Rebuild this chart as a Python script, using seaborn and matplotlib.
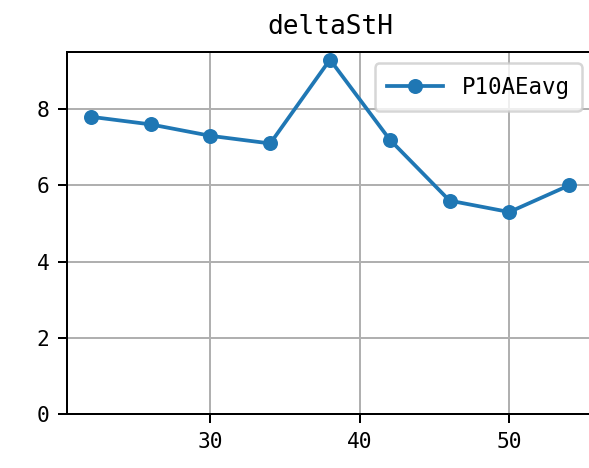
import matplotlib
matplotlib.use("Agg")
import matplotlib.pyplot as plt
import seaborn as sns
import pandas as pd

x_vals = [22, 26, 30, 34, 38, 42, 46, 50, 54]
y_vals = [7.8, 7.6, 7.3, 7.1, 9.3, 7.2, 5.6, 5.3, 6.0]
series_name = "P10AEavg"
title = "deltaStH"

df = pd.DataFrame({"x": x_vals, "y": y_vals, "series": series_name})

plt.rcParams['font.family'] = ['DejaVu Sans Mono', 'DejaVu Sans']

dpi = 180
fig = plt.figure(figsize=(589 / dpi, 468 / dpi), dpi=dpi)
ax = fig.add_axes([67 / 589, (468 - 414) / 468, (593 - 67) / 589, (414 - 52) / 468])

sns.lineplot(data=df, x="x", y="y", hue="series", marker="o", markersize=6,
             markeredgewidth=0, linewidth=1.5, palette=["#1f77b4"], ax=ax)

ax.set_ylim(0, None)
ax.set_xticks([30, 40, 50])
ax.grid(True, color="#b0b0b0", linewidth=0.8)
ax.set_xlabel("")
ax.set_ylabel("")
ax.set_title(title, fontsize=10.5, pad=7)
ax.tick_params(labelsize=8.5)
leg = ax.legend(loc="upper right", fontsize=9, handlelength=2.5, borderpad=0.55)

fig.savefig("out.png", dpi=dpi)
